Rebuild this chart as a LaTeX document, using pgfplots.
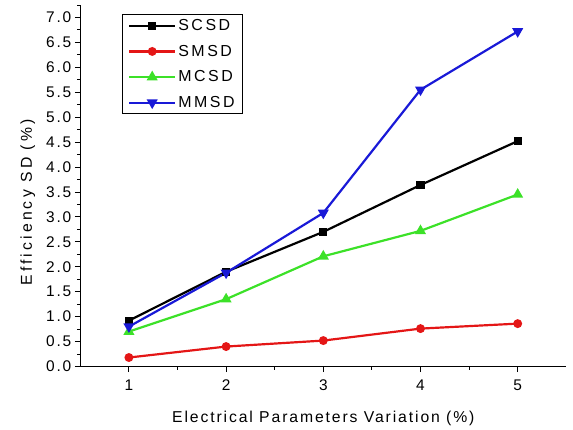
\documentclass[border=0pt]{standalone}
\usepackage{fontspec}
\setmainfont[LetterSpace=12]{Liberation Sans}
\usepackage{pgfplots}
\pgfplotsset{compat=1.18}
\definecolor{cred}{RGB}{228,22,22}
\definecolor{cgreen}{RGB}{60,225,40}
\definecolor{cblue}{RGB}{25,25,215}
\begin{document}
\begin{tikzpicture}[x=1bp,y=1bp]
\begin{axis}[
  scale only axis, width=486bp, height=361.5bp,
  xmin=0.5, xmax=5.5, ymin=0, ymax=7.25,
  axis x line*=bottom, axis y line*=left,
  axis line style={-, line width=1pt},
  xtick={1,2,3,4,5}, minor xtick={1.5,2.5,3.5,4.5},
  ytick={0,0.5,...,7.0},
  minor ytick={0.25,0.75,...,7.0},
  tick style={black, line width=0.9pt},
  tick align=outside,
  major tick length=5.5bp, minor tick length=3bp,
  yticklabel style={/pgf/number format/.cd, fixed, fixed zerofill, precision=1},
  xticklabel style={yshift=-4bp},
  /pgf/number format/assume math mode=true,
  ticklabel style={font=\fontsize{15.5}{17}\selectfont},
  label style={font=\fontsize{15.8}{17}\selectfont},
  xlabel={Electrical Parameters Variation (\%)},
  ylabel={Efficiency SD (\%)},
  xlabel style={yshift=-14bp},
  ylabel style={at={(ticklabel cs:0.454)}, yshift=4bp, font=\fontsize{15.8}{17}\selectfont\addfontfeature{LetterSpace=20}},
  legend style={at={(0.085,0.975)}, anchor=north west, draw=black, line width=1pt,
    font=\fontsize{16}{17}\selectfont\addfontfeature{LetterSpace=16}, row sep=9bp, inner xsep=6bp, inner ysep=3bp},
  legend cell align=left,
  legend image code/.code={\draw[mark repeat=2,mark phase=2] plot coordinates {(0bp,0bp) (23bp,0bp) (46bp,0bp)};},
  every axis plot/.append style={line width=2.2pt},
  clip=false,
]
\coordinate (o) at (rel axis cs:0,0);
\addplot[black, mark=square*, mark size=3bp] coordinates {(1,0.92) (2,1.90) (3,2.70) (4,3.64) (5,4.52)};
\addlegendentry{SCSD}
\addplot[cred, mark=*, mark size=3.3bp] coordinates {(1,0.18) (2,0.40) (3,0.52) (4,0.76) (5,0.86)};
\addlegendentry{SMSD}
\addplot[cgreen, mark=triangle*, mark size=4.2bp] coordinates {(1,0.70) (2,1.35) (3,2.21) (4,2.72) (5,3.45)};
\addlegendentry{MCSD}
\addplot[cblue, mark=triangle*, mark options={rotate=180}, mark size=4.2bp] coordinates {(1,0.80) (2,1.88) (3,3.08) (4,5.55) (5,6.72)};
\addlegendentry{MMSD}
\end{axis}
\path (o) ++(-80.3bp,-62.5bp) rectangle ++(573bp,429bp);
\end{tikzpicture}
\end{document}
